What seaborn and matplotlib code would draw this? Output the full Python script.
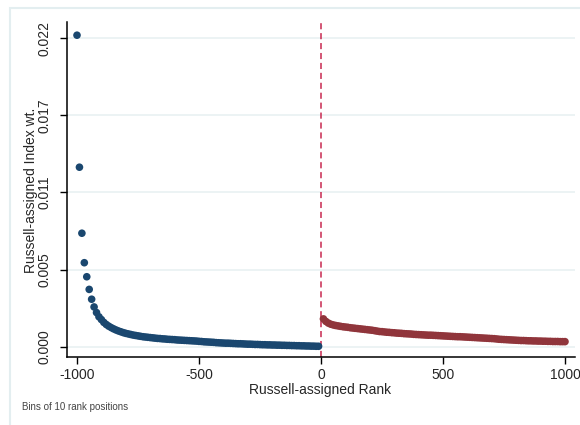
import matplotlib
matplotlib.use('Agg')

import matplotlib.pyplot as plt
import numpy as np
import pandas as pd
import seaborn as sns
from matplotlib.patches import Rectangle

sns.set_style("white")
plt.rcParams['font.family'] = ['Liberation Sans', 'DejaVu Sans']

# bins of 10 rank positions (index weight)
rank_below = list(range(-1000, 0, 10))
wt_below = [22.2, 12.8, 8.1, 6.0, 5.0, 4.1, 3.4, 2.85, 2.45, 2.15,
            1.95, 1.75, 1.60, 1.48, 1.38, 1.29, 1.21, 1.14, 1.08, 1.02,
            0.97, 0.93, 0.89, 0.85, 0.82, 0.79, 0.76, 0.73, 0.71, 0.69,
            0.67, 0.65, 0.63, 0.61, 0.60, 0.58, 0.57, 0.55, 0.54, 0.53,
            0.52, 0.50, 0.49, 0.48, 0.47, 0.46, 0.45, 0.44, 0.43, 0.42,
            0.40, 0.39, 0.37, 0.36, 0.35, 0.34, 0.33, 0.31, 0.30, 0.29,
            0.28, 0.27, 0.27, 0.26, 0.25, 0.24, 0.23, 0.23, 0.22, 0.21,
            0.20, 0.20, 0.19, 0.18, 0.18, 0.17, 0.16, 0.16, 0.15, 0.15,
            0.14, 0.14, 0.13, 0.13, 0.12, 0.12, 0.11, 0.11, 0.10, 0.10,
            0.09, 0.09, 0.08, 0.08, 0.07, 0.07, 0.06, 0.06, 0.05, 0.05]

rank_above = list(range(10, 1001, 10))
wt_above = [2.00, 1.82, 1.70, 1.62, 1.57, 1.53, 1.50, 1.47, 1.44, 1.42,
            1.40, 1.37, 1.35, 1.33, 1.31, 1.29, 1.27, 1.25, 1.23, 1.21,
            1.19, 1.16, 1.13, 1.10, 1.09, 1.07, 1.05, 1.04, 1.02, 1.01,
            0.99, 0.98, 0.97, 0.95, 0.94, 0.93, 0.92, 0.90, 0.89, 0.88,
            0.87, 0.86, 0.85, 0.84, 0.84, 0.83, 0.82, 0.81, 0.80, 0.79,
            0.78, 0.77, 0.76, 0.75, 0.74, 0.73, 0.73, 0.72, 0.71, 0.70,
            0.69, 0.68, 0.67, 0.66, 0.65, 0.64, 0.63, 0.62, 0.61, 0.60,
            0.59, 0.57, 0.55, 0.54, 0.53, 0.52, 0.51, 0.50, 0.49, 0.48,
            0.47, 0.46, 0.46, 0.45, 0.44, 0.44, 0.43, 0.43, 0.42, 0.42,
            0.41, 0.41, 0.40, 0.40, 0.39, 0.39, 0.39, 0.38, 0.38, 0.38]

yticks = [0.0, 0.0055, 0.011, 0.0165, 0.022]
ytick_labels = ['0.000', '0.005', '0.011', '0.017', '0.022']
xticks = [-1000, -500, 0, 500, 1000]

df = pd.DataFrame({
    'rank': rank_below + rank_above,
    'wt': [v / 1000 for v in wt_below + wt_above],
    'side': ['below'] * len(rank_below) + ['above'] * len(rank_above),
})

fig = plt.figure(figsize=(5.8, 4.25), dpi=100)
# Stata-like graph region frame
fig.patches.append(Rectangle((10 / 580, -0.1), 1.2, 1 - 8 / 425 + 0.1,
                             transform=fig.transFigure, fill=False,
                             edgecolor='#e3eef0', linewidth=1.5))
ax = fig.add_axes([67 / 580, 68 / 425, 508 / 580, 335 / 425])

for y in yticks:
    ax.axhline(y, color='#eaf2f3', linewidth=1.3, zorder=0)

sns.scatterplot(data=df, x='rank', y='wt', hue='side',
                palette={'below': '#1a476f', 'above': '#90353b'},
                s=30, edgecolor='none', legend=False, ax=ax, zorder=3)

ax.axvline(0, color='#c8284f', linewidth=1.1, linestyle=(0, (4, 2.5)), zorder=2)

ax.set_xlim(-1041, 1041)
ax.set_ylim(-0.000714, 0.02314)
ax.set_xticks(xticks)
ax.set_xticklabels([str(t) for t in xticks])
ax.set_yticks(yticks)
ax.set_yticklabels(ytick_labels, rotation=90, va='center')

ax.tick_params(axis='both', direction='out', length=5, width=1, color='black',
               labelsize=10, bottom=True, left=True)
ax.tick_params(axis='x', pad=3)
ax.tick_params(axis='y', pad=6)

for side in ['top', 'right']:
    ax.spines[side].set_visible(False)
for side in ['left', 'bottom']:
    ax.spines[side].set_color('black')
    ax.spines[side].set_linewidth(1.1)

ax.set_xlabel('')
ax.set_ylabel('')
fig.text(320 / 580, 1 - 390 / 425, 'Russell-assigned Rank', ha='center',
         va='center', fontsize=10)
fig.text(31 / 580, 1 - 190 / 425, 'Russell-assigned Index wt.', ha='center',
         va='center', rotation=90, fontsize=10)
fig.text(22 / 580, 1 - 407 / 425, 'Bins of 10 rank positions', ha='left',
         va='center', fontsize=7, color='#444444')

fig.savefig('out.png', dpi=100)
